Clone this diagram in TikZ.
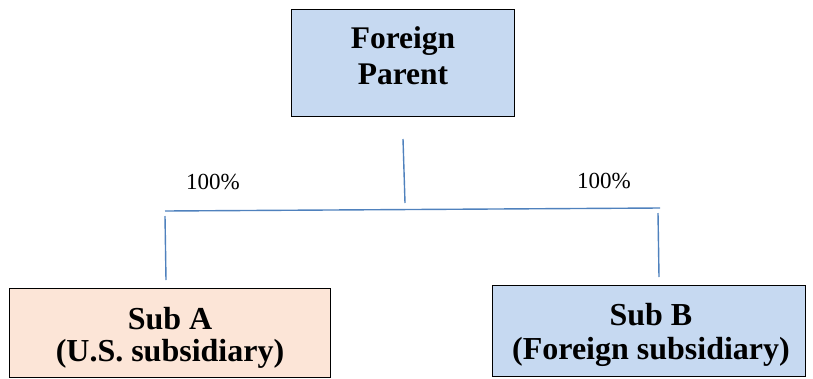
\documentclass[tikz,border=0pt]{standalone}
\usepackage{fontspec}
\setmainfont{Liberation Serif}
\definecolor{boxblue}{HTML}{C6D9F1}
\definecolor{boxpeach}{HTML}{FCE5D7}
\definecolor{lineblue}{HTML}{4F81BD}
\tikzset{
  entity/.style={draw=black, line width=1pt, inner sep=0pt},
  entitytext/.style={align=center, inner sep=0pt},
  link/.style={draw=lineblue, line width=1.4pt},
  share/.style={font=\fontsize{23}{27}\selectfont}
}
\begin{document}
\begin{tikzpicture}[x=1pt, y=-1pt]

\useasboundingbox (0,0) rectangle (813,378);

\draw (402.5,62.5) node (parent) [entity, fill=boxblue, minimum width=223pt, minimum height=107pt] {};

\draw (403,56) node (parenttext) [entitytext, font=\bfseries\fontsize{31.5}{36}\selectfont] {Foreign\\Parent};

\draw (169.5,333) node (suba) [entity, fill=boxpeach, minimum width=321pt, minimum height=89pt] {};

\draw (170,338) node (subatext) [entitytext, font=\bfseries\fontsize{32}{32}\selectfont] {Sub A\\(U.S. subsidiary)};

\draw (648.5,330.5) node (subb) [entity, fill=boxblue, minimum width=313pt, minimum height=91pt] {};

\draw (651,335) node (subbtext) [entitytext, font=\bfseries\fontsize{32}{34}\selectfont] {Sub B\\(Foreign subsidiary)};

\draw (213,182) node (pctA) [share] {100\%};

\draw (604,181) node (pctB) [share] {100\%};

\coordinate (stemtop) at (403,139);
\coordinate (stembot) at (405,203);
\coordinate (barL) at (165,211);
\coordinate (barR) at (660,208);
\coordinate (legAtop) at (165,216);
\coordinate (legAbot) at (166,280);
\coordinate (legBtop) at (658,213);
\coordinate (legBbot) at (659,277);

\draw [link] (stemtop) -- (stembot);
\draw [link] (barL) -- (barR);
\draw [link] (legAtop) -- (legAbot);
\draw [link] (legBtop) -- (legBbot);

\end{tikzpicture}
\end{document}
